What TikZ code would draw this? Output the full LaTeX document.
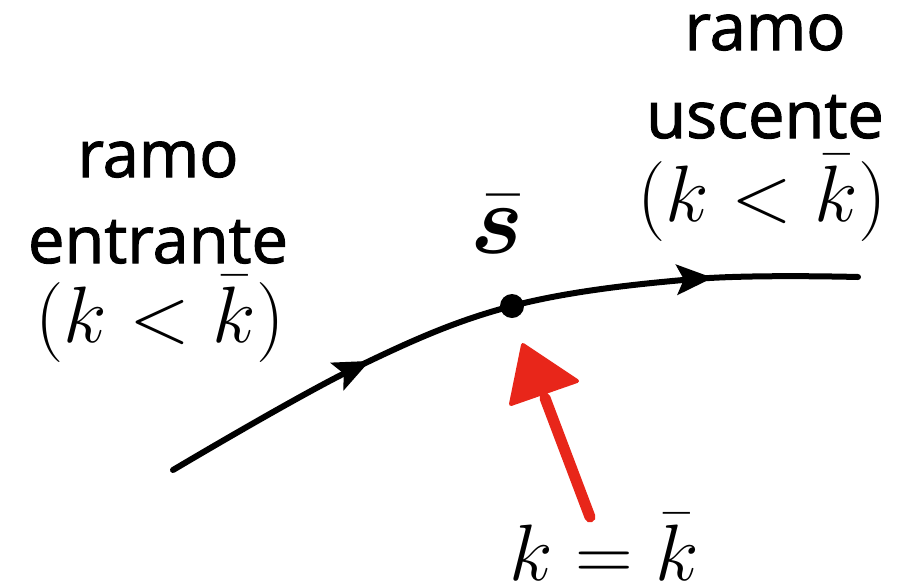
\RequirePackage{fix-cm}
\documentclass[tikz,border=0pt]{standalone}
\usepackage{fontspec}
\setmainfont{Open Sans}[FakeBold=1.6]
\usepackage{amsmath,bm}
\usetikzlibrary{arrows.meta,decorations.markings}
\definecolor{redarrow}{RGB}{232,38,26}
\tikzset{
  lbl/.style={anchor=base,inner sep=0pt,font=\fontsize{65}{70}\selectfont},
  mth/.style={anchor=base,inner sep=0pt,font=\fontsize{80}{80}\selectfont},
  curve/.style={line width=6pt,line cap=round,
    postaction={decorate,decoration={markings,
      mark=at position 0.31 with {\arrow{Stealth[length=36pt,width=30pt,inset=7pt]}},
      mark=at position 0.80 with {\arrow{Stealth[length=36pt,width=30pt,inset=7pt]}}}}}
}
\begin{document}
\begin{tikzpicture}[x=1pt,y=-1pt]
\useasboundingbox (0,0) rectangle (897,587);
% curve
\coordinate (c0) at (173,470);
\coordinate (c1) at (355,368);
\coordinate (s) at (512,306);
\coordinate (c3) at (695,279);
\coordinate (c4) at (858,277);
\draw[curve] plot[smooth,tension=0.6] coordinates {(173,470) (355,368) (512,306) (695,279) (858,277)};
\fill (s) circle (12);
% labels
\node[lbl] (l1) at (158,177) {ramo};
\node[lbl] (l2) at (158,263) {entrante};
\node[mth] (l3) at (160,342) {$(k<\bar{k})$};
\node[lbl] (r1) at (765,50) {ramo};
\node[lbl] (r2) at (765,138) {uscente};
\node[mth] (r3) at (762,221) {$(k<\bar{k})$};
\node[anchor=base,inner sep=0pt,font=\fontsize{100}{100}\selectfont] (sbar) at (497,253) {$\bar{\bm{s}}$};
\node[mth] (keq) at (604,580) {$k=\bar{k}$};
% red arrow
\coordinate (rtail) at (590,517);
\coordinate (rbase) at (545,398);
\draw[redarrow,line width=11pt,line cap=round] (rtail) -- (rbase);
\fill[redarrow,line join=round] (523,345) -- (577,381) -- (511,404) -- cycle;
\draw[redarrow,line width=4pt,line join=round] (523,345) -- (577,381) -- (511,404) -- cycle;
\end{tikzpicture}
\end{document}
